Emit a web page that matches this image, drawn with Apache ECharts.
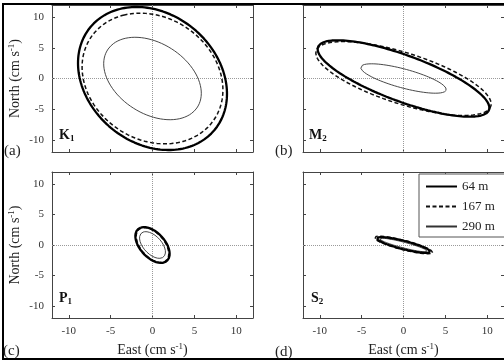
<!DOCTYPE html>
<html><head><meta charset="utf-8">
<script src="https://cdn.jsdelivr.net/npm/echarts@6/dist/echarts.min.js"></script>
<style>html,body{margin:0;padding:0;background:#fff}#c{width:504px;height:362px}</style>
</head><body><div id="c"></div>
<script>
// ---- data ----
const depths = ['64 m', '167 m', '290 m'];
const constituents = ['K', 'M', 'P', 'S'];
const constituentSub = ['1', '2', '1', '2'];
const panelTags = ['(a)', '(b)', '(c)', '(d)'];
const tickValues = [-10, -5, 0, 5, 10];
// tidal-ellipse parameters per depth [64 m, 167 m, 290 m]
// semi-major (cm/s), semi-minor (cm/s), inclination (deg CCW from east)
const k1Major = [12.0, 10.9, 7.4];
const k1Minor = [8.45, 8.1, 4.95];
const k1Incl  = [109, 108, 124];
const m2Major = [11.46, 11.4, 5.44];
const m2Minor = [3.58, 4.0, 1.5];
const m2Incl  = [-28, -25, -21];
const p1Major = [3.19, 3.1, 2.4];
const p1Minor = [1.64, 1.55, 1.2];
const p1Incl  = [116.6, 116, 118];
const s2Major = [3.39, 3.7, 3.0];
const s2Minor = [0.66, 0.75, 0.45];
const s2Incl  = [-19.6, -20, -20];

const majors = [k1Major, m2Major, p1Major, s2Major];
const minors = [k1Minor, m2Minor, p1Minor, s2Minor];
const incls  = [k1Incl, m2Incl, p1Incl, s2Incl];

function ellipse(a, b, thDeg) {
  const th = thDeg * Math.PI / 180, pts = [];
  for (let i = 0; i <= 180; i++) {
    const t = i / 180 * 2 * Math.PI;
    pts.push([a * Math.cos(t) * Math.cos(th) - b * Math.sin(t) * Math.sin(th),
              a * Math.cos(t) * Math.sin(th) + b * Math.sin(t) * Math.cos(th)]);
  }
  return pts;
}

const FONT = 'Liberation Serif';
const grids = [
  {left: 52, top: 5, width: 201, height: 147},
  {left: 303, top: 5, width: 202, height: 147},
  {left: 52, top: 172, width: 201, height: 146},
  {left: 303, top: 172, width: 202, height: 146}
];
const lineStyles = [
  {color: '#000', width: 2.3, type: 'solid'},
  {color: '#111', width: 1.5, type: [4, 2.5]},
  {color: '#333', width: 0.9, type: 'solid'}
];
const supRich = {
  n: {fontFamily: FONT, fontSize: 14, color: '#222', lineHeight: 16},
  s: {fontFamily: FONT, fontSize: 9, color: '#222', verticalAlign: 'top', lineHeight: 16, padding: [0, 0, 5, 0]}
};

const xAxes = [], yAxes = [], series = [];
grids.forEach((g, i) => {
  const bottomRow = i >= 2, leftCol = i % 2 === 0;
  const base = {
    type: 'value', gridIndex: i, min: -12, max: 12,
    axisLine: {show: true, onZero: false, lineStyle: {color: '#444', width: 1}},
    axisTick: {show: true, inside: true, length: 3, customValues: tickValues, lineStyle: {color: '#444'}},
    splitLine: {show: false}
  };
  xAxes.push(Object.assign({}, base, {
    position: 'bottom',
    axisLabel: {show: bottomRow, customValues: tickValues, margin: 8, fontFamily: FONT, fontSize: 11, color: '#333'},
    name: bottomRow ? '{n|East (cm s}{s|-1}{n|)}' : '',
    nameLocation: 'middle', nameGap: 24,
    nameTextStyle: {rich: supRich}
  }));
  xAxes.push(Object.assign({}, base, {position: 'top', axisLabel: {show: false}}));
  yAxes.push(Object.assign({}, base, {
    position: 'left',
    axisLabel: {show: leftCol, customValues: tickValues, margin: 8, fontFamily: FONT, fontSize: 11, color: '#333'},
    name: leftCol ? '{n|North (cm s}{s|-1}{n|)}' : '',
    nameLocation: 'middle', nameGap: 29, nameRotate: 90,
    nameTextStyle: {rich: supRich}
  }));
  yAxes.push(Object.assign({}, base, {position: 'right', axisLabel: {show: false}}));

  depths.forEach((d, j) => {
    const s = {
      type: 'line', name: d, xAxisIndex: 2 * i, yAxisIndex: 2 * i,
      data: ellipse(majors[i][j], minors[i][j], incls[i][j]),
      showSymbol: false, symbol: 'none', silent: true, animation: false,
      lineStyle: lineStyles[j], itemStyle: {color: lineStyles[j].color}, z: 3 - j
    };
    if (j === 0) {
      s.markLine = {
        silent: true, symbol: ['none', 'none'], label: {show: false}, animation: false,
        lineStyle: {type: 'dotted', color: '#9a9a9a', width: 1},
        data: [{xAxis: 0}, {yAxis: 0}], z: 1
      };
    }
    series.push(s);
  });
});

const tagPos = [[4, 151], [275, 151], [3, 351], [275, 352]];
const namePos = [[59, 135], [309, 135], [59, 298], [311, 298]];
const graphic = [
  {type: 'rect', shape: {x: 3, y: 4, width: 530, height: 355}, style: {fill: 'none', stroke: '#000', lineWidth: 2}, z: 100, silent: true}
];
panelTags.forEach((t, i) => {
  graphic.push({type: 'text', x: tagPos[i][0], y: tagPos[i][1], z: 100,
    style: {text: t, font: '15px ' + FONT, fill: '#222', align: 'left', verticalAlign: 'middle', textAlign: 'left', textVerticalAlign: 'middle'}});
  graphic.push({type: 'text', x: namePos[i][0], y: namePos[i][1], z: 100,
    style: {text: '{m|' + constituents[i] + '}{s|' + constituentSub[i] + '}', fill: '#111',
      align: 'left', verticalAlign: 'middle', textAlign: 'left', textVerticalAlign: 'middle',
      rich: {
        m: {font: 'bold 14px ' + FONT, fill: '#111', lineHeight: 16},
        s: {font: 'bold 9px ' + FONT, fill: '#111', verticalAlign: 'bottom', lineHeight: 12}
      }}});
});

const chart = echarts.init(document.getElementById('c'), null, {renderer: 'canvas'});
chart.setOption({
  animation: false,
  backgroundColor: '#fff',
  grid: grids,
  xAxis: xAxes,
  yAxis: yAxes,
  series: series,
  legend: {
    data: depths, orient: 'vertical', left: 419, top: 174,
    itemWidth: 31, itemHeight: 14, itemGap: 7,
    padding: [6, 60, 4, 6],
    backgroundColor: '#fff', borderColor: '#555', borderWidth: 1,
    itemStyle: {opacity: 0},
    textStyle: {fontFamily: FONT, fontSize: 13, color: '#222'},
    selectedMode: false
  },
  graphic: graphic
});
</script>
</body></html>
